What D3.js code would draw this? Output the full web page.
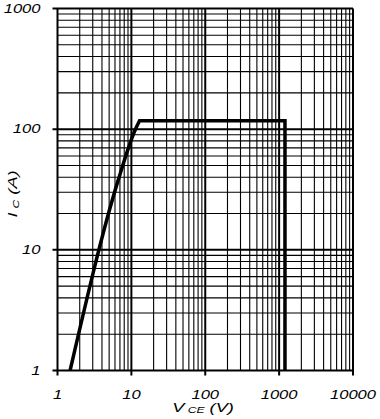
<!DOCTYPE html>
<html><head><meta charset="utf-8">
<script src="https://cdn.jsdelivr.net/npm/d3@7"></script>
<style>
html,body{margin:0;padding:0;background:#fff;}
svg{display:block;}
text{font-family:"Liberation Sans",Arial,sans-serif;font-style:italic;fill:#000;}
</style></head>
<body>
<svg id="c" width="380" height="419"></svg>
<script>
// Data
const xTicks = [1, 10, 100, 1000, 10000];
const yTicks = [1, 10, 100, 1000];
const xTickLabels = ["1", "10", "100", "1000", "10000"];
const yTickLabels = ["1", "10", "100", "1000"];
// rising (current-limited by slope) part of the SOA boundary
const riseV = [1.48, 6.65, 11.2, 12.9];
const riseI = [1, 38, 98, 117.5];
// flat and vertical part of the SOA boundary
const limitV = [1200, 1200];
const limitI = [117.5, 1];
const xTitle = ["V", "CE", " (V)"];
const yTitle = ["I", "C", " (A)"];

const svg = d3.select("#c");
const L = 57.5, R = 353, T = 8.5, B = 370.5;
const x = d3.scaleLog().domain([1, 10000]).range([L, R]);
const y = d3.scaleLog().domain([1, 1000]).range([B, T]);

// minor grid values
const xMinor = [], yMinor = [];
for (let d = 1; d < 10000; d *= 10) for (let k = 2; k <= 9; k++) xMinor.push(d * k);
for (let d = 1; d < 1000; d *= 10) for (let k = 2; k <= 9; k++) yMinor.push(d * k);

const g = svg.append("g");
g.selectAll(".vx").data(xMinor).join("line")
  .attr("x1", d => x(d)).attr("x2", d => x(d)).attr("y1", T).attr("y2", B)
  .attr("stroke", "#000").attr("stroke-width", 1.1);
g.selectAll(".hy").data(yMinor).join("line")
  .attr("y1", d => y(d)).attr("y2", d => y(d)).attr("x1", L).attr("x2", R)
  .attr("stroke", "#000").attr("stroke-width", 1.1);
// major grid
g.selectAll(".vX").data(xTicks).join("line")
  .attr("x1", d => x(d)).attr("x2", d => x(d)).attr("y1", T).attr("y2", B + 5)
  .attr("stroke", "#000").attr("stroke-width", 2);
g.selectAll(".hY").data(yTicks).join("line")
  .attr("y1", d => y(d)).attr("y2", d => y(d)).attr("x1", L - 5).attr("x2", R)
  .attr("stroke", "#000").attr("stroke-width", 2);

// SOA curve
const rise = riseV.map((v, i) => [v, riseI[i]]);
const lim = limitV.map((v, i) => [v, limitI[i]]);
let dPath = d3.line().curve(d3.curveMonotoneX).x(d => x(d[0])).y(d => y(d[1]))(rise);
lim.forEach(p => { dPath += `L${x(p[0])},${y(p[1])}`; });
svg.append("path")
  .attr("d", dPath)
  .attr("fill", "none").attr("stroke", "#000").attr("stroke-width", 3.5)
  .attr("stroke-linejoin", "miter");

// tick labels
const sx = 1.38;
svg.selectAll(".yl").data(yTicks).join("text")
  .attr("transform", d => `translate(40.5,${y(d)}) scale(${sx},1)`)
  .attr("text-anchor", "end").attr("dy", "0.36em")
  .attr("font-size", 12).text((d, i) => yTickLabels[i]);
svg.selectAll(".xl").data(xTicks).join("text")
  .attr("transform", d => `translate(${x(d)},398.5) scale(${sx},1)`)
  .attr("text-anchor", "middle")
  .attr("font-size", 12).text((d, i) => xTickLabels[i]);

// axis titles
const xt = svg.append("text")
  .attr("transform", `translate(203,411.7) scale(1.35,1)`)
  .attr("text-anchor", "middle").attr("font-size", 13.5);
xt.append("tspan").text(xTitle[0]);
xt.append("tspan").attr("font-size", 9).attr("dx", 2.5).attr("dy", 1.5).text(xTitle[1]);
xt.append("tspan").attr("dy", -1.5).attr("font-size", 13.5).text(xTitle[2]);

const yt = svg.append("text")
  .attr("transform", `translate(17,194) rotate(-90) scale(1.35,1)`)
  .attr("text-anchor", "middle").attr("font-size", 13.5);
yt.append("tspan").text(yTitle[0]);
yt.append("tspan").attr("font-size", 9).attr("dx", 3).attr("dy", 1.5).text(yTitle[1]);
yt.append("tspan").attr("dy", -1.5).attr("font-size", 13.5).text(yTitle[2]);
</script>
</body></html>
